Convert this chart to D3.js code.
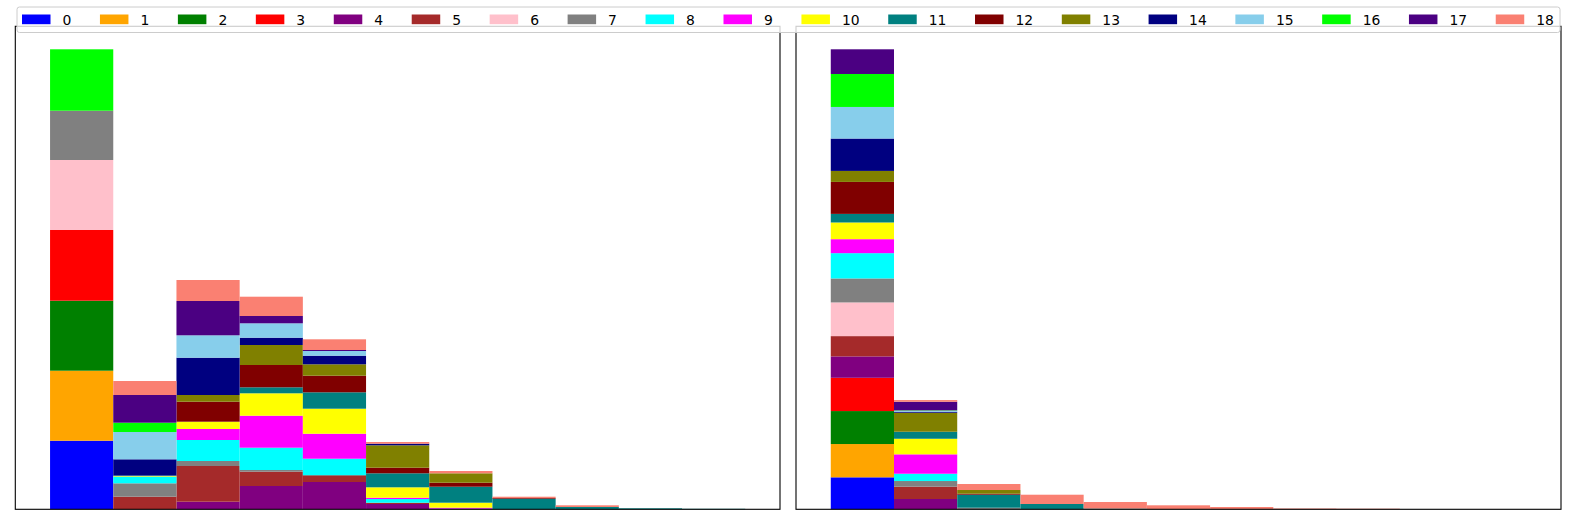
<!DOCTYPE html>
<html><head><meta charset="utf-8">
<script src="https://cdn.jsdelivr.net/npm/d3@7"></script>
<style>body{margin:0;background:#fff}svg{display:block}</style>
</head><body><svg id="c" width="1577" height="526"></svg>
<script>
const classes = ["0","1","2","3","4","5","6","7","8","9","10","11","12","13","14","15","16","17","18"];
const colors = ["blue","orange","green","red","purple","brown","pink","gray","cyan","magenta","yellow","teal","maroon","olive","navy","skyblue","lime","indigo","salmon"];
const bins = [0,1,2,3,4,5,6,7,8,9,10];
// values[class][bin]
const leftValues = [
 [68.6,0,0,0,0,0,0,0,0,0,0],
 [70,0,0,0,0,0,0,0,0,0,0],
 [70,0,0,0,0,0,0,0,0,0,0],
 [70.7,0,0,0,0,0,0,0,0,0,0],
 [0,0,7.6,23.3,27.3,5.3,0.8,0,0,0,0],
 [0,12.6,35.7,14.3,6,1.3,0,0,0,0,0],
 [70,0,0,0,0,0,0,0,0,0,0],
 [49.3,13.4,5,1.7,1,0,0,0,0,0,0],
 [0,6.6,21,22.3,16.3,3.7,0,0,0,0,0],
 [0,0,11,32,25,1.3,0.8,0,0,0,0],
 [0,0.6,7.3,22.4,25,10.4,5,0,0,0,0],
 [0,0.6,0,6,16.4,14,16,10.6,2.3,1,0.5],
 [0,0,20,22.3,16.6,5.6,4,0.7,0,0,0],
 [0,0,6.7,20,11.4,22.4,9.4,0,0,0,0],
 [0,16.2,37.3,7.3,8.6,1.6,0,0,0,0,0],
 [0,27.3,22.4,14.4,4.7,0,0,0,0,0,0],
 [61.4,9.3,0,0,0,0,0,0,0,0,0],
 [0,27.7,34.3,7.3,1,0,0,0,0,0,0],
 [0,14,21,19.3,10.7,1.7,2.3,1.3,1.7,0,0]
];
const rightValues = [
 [32,0,0,0,0,0,0,0,0,0,0],
 [33.3,0,0,0,0,0,0,0,0,0,0],
 [33,0,0,0,0,0,0,0,0,0,0],
 [33.3,0,0,0,0,0,0,0,0,0,0],
 [21.4,10.3,0,0,0,0,0,0,0,0,0],
 [20.3,12.3,0,0,0,0,0,0,0,0,0],
 [33.7,0,0,0,0,0,0,0,0,0,0],
 [24,5.7,1.6,0,0,0,0,0,0,0,0],
 [25.3,7.3,0,0,0,0,0,0,0,0,0],
 [14,19.4,0,0,0,0,0,0,0,0,0],
 [16.7,15.6,0,0,0,0,0,0,0,0,0],
 [8.6,7,13,5.3,0.7,0,0,0,0,0,0],
 [32,0,1,0,0,0,0,0,0,0,0],
 [11,19,3.7,0,0,0,0,0,0,0,0],
 [32.4,1,0,0,0,0,0,0,0,0,0],
 [31.6,1,0,0,0,0,0,0,0,0,0],
 [33,0.4,0,0,0,0,0,0,0,0,0],
 [24.7,8.6,0,0,0,0,0,0,0,0,0],
 [0,1.7,6,9.3,6.6,4,2.3,0.8,0.6,0,0]
];

const svg = d3.select("#c");
const axTop = 26.3, axBottom = 509.3;

function panel(values, x0, x1){
  const rows = bins.map(b => { const o = {bin:b}; classes.forEach((c,i)=> o[c] = values[i][b]); return o; });
  const series = d3.stack().keys(classes)(rows);
  const maxT = d3.max(rows, r => d3.sum(classes, c => r[c]));
  const x = d3.scaleLinear().domain([-0.55, bins.length + 0.55]).range([x0, x1]);
  const y = d3.scaleLinear().domain([0, maxT*1.05]).range([axBottom, axTop]);
  const g = svg.append("g");
  series.forEach((s,i) => {
    g.append("g").attr("fill", colors[i]).selectAll("rect").data(s).join("rect")
      .attr("x", d => x(d.data.bin)).attr("width", x(1)-x(0))
      .attr("y", d => y(d[1])).attr("height", d => Math.max(0, y(d[0]) - y(d[1])));
  });
  g.append("rect").attr("x", x0).attr("y", axTop).attr("width", x1-x0).attr("height", axBottom-axTop)
    .attr("fill","none").attr("stroke","#000").attr("stroke-width",1.1);
}
panel(leftValues, 15.3, 780);
panel(rightValues, 796, 1561);

// legend
const lg = svg.append("g").attr("font-family","DejaVu Sans").attr("font-size",13.9);
lg.append("rect").attr("x",17).attr("y",7).attr("width",1543).attr("height",25.5).attr("rx",2.5)
  .attr("fill","white").attr("fill-opacity",0.8).attr("stroke","#cccccc").attr("stroke-width",1);
let cx = 22;
classes.forEach((c,i) => {
  lg.append("rect").attr("x",cx).attr("y",14.5).attr("width",28.5).attr("height",9.7).attr("fill",colors[i]);
  const t = lg.append("text").attr("x",cx+40.5).attr("y",24.5).attr("fill","#000").text(c);
  const w = t.node().getComputedTextLength();
  cx += 40.5 + w + 28.6;
});
</script></body></html>
